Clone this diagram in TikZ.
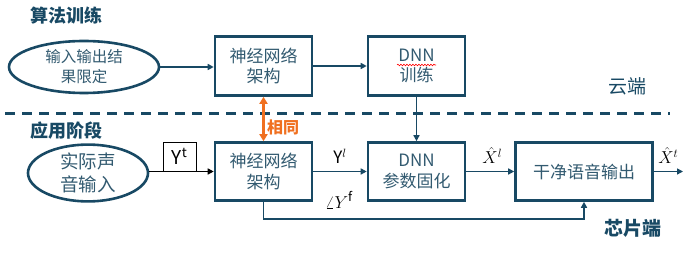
\documentclass[tikz,border=0pt]{standalone}
\usepackage{fontspec}
\setmainfont{Noto Sans CJK SC}
\usetikzlibrary{arrows.meta, shapes.geometric, decorations.pathmorphing}
\definecolor{deepteal}{RGB}{24,73,100}
\definecolor{textteal}{RGB}{50,90,112}
\definecolor{sameorange}{RGB}{240,112,32}
\tikzset{
	blockbox/.style={draw=deepteal, line width=2.6pt, minimum width=97pt, minimum height=58pt,
		align=center, inner sep=2pt, text=textteal, font=\fontsize{17}{20.5}\selectfont}
}
\tikzset{
	oval/.style={ellipse, draw=deepteal, line width=2.6pt, inner sep=0pt, align=center, text=textteal}
}
\tikzset{
	flow/.style={draw=deepteal, line width=1.6pt, -{Triangle[length=6pt,width=6pt]}}
}
\tikzset{
	stagetext/.style={font=\fontsize{18}{20}\selectfont\bfseries, text=deepteal}
}
\tikzset{
	sidetext/.style={font=\fontsize{19}{21}\selectfont, text=deepteal}
}
\tikzset{
	signal/.style={font=\fontsize{18}{20}\selectfont, text=black, inner sep=1pt, above, yshift=6pt}
}

\begin{document}
\begin{tikzpicture}[x=1pt, y=-1pt]
      \useasboundingbox (0,0) rectangle (688,253);
      % cloud side
      \node[stagetext] (algtitle) at (66,16) {算法训练};
      \node[oval, minimum width=150pt, minimum height=52pt, font=\fontsize{15.5}{20}\selectfont] (spec) at (84,67) {输入输出结\\果限定};
      \node[blockbox, minimum height=59pt] (archtrain) at (263.5,66) {神经网络\\架构};
      \node[blockbox, minimum height=59pt] (dnntrain) at (416.5,66) {DNN\\训练};
      \node[sidetext] (cloud) at (627,86) {云端};
      \draw[red, line width=0.6pt, decorate, decoration={snake, segment length=3pt, amplitude=0.8pt}] (397,65) -- (436,65);
      \draw[flow] (spec.east) -- (spec.east -| archtrain.west);
      \draw[flow] (archtrain) -- (dnntrain);
      \draw[deepteal, line width=3pt, dash pattern=on 10pt off 7pt] (5,114) -- (670,114);
      % chip side
      \node[stagetext] (apptitle) at (66,131) {应用阶段};
      \node[oval, minimum width=120pt, minimum height=48pt, font=\fontsize{18.5}{23}\selectfont] (speech) at (88,173) {实际声\\音输入};
      \node[blockbox] (archrun) at (263.5,171.5) {神经网络\\架构};
      \node[blockbox] (dnnfixed) at (416.5,171.5) {DNN\\参数固化};
      \node[blockbox, minimum width=137pt] (cleanout) at (584,171.5) {干净语音输出};
      \node[draw=black, line width=0.8pt, minimum width=33pt, minimum height=29pt, inner sep=0pt, font=\fontsize{19}{21}\selectfont] (ytbox) at (179.5,156.5) {Y\textsuperscript{t}};
      \node[sidetext, font=\fontsize{19}{21}\selectfont\bfseries] (chip) at (633,228) {芯片端};
      \coordinate (xout) at (683,171.5);
      \draw[flow, draw=black] (speech.east |- archrun.west) -- (archrun.west);
      \draw[flow] (dnntrain) -- (dnnfixed);
      \draw[flow] (archrun) -- node[signal, font=\fontsize{17}{19}\selectfont] (ylabel) {Y$^{l}$} (dnnfixed);
      \draw[flow] (dnnfixed) -- node[signal, xshift=2pt] (xllabel) {$\hat{X}^{l}$} (cleanout);
      \draw[flow] (cleanout) -- node[signal] (xtlabel) {$\hat{X}^{t}$} (xout);
      \draw[flow] (archrun.south) -- ++(0,17.5) -| (cleanout.south);
      \node[font=\fontsize{18}{20}\selectfont, inner sep=1pt] (phase) at (339,200) {$\angle Y^{\mathrm{f}}$};
      % same network
      \draw[sameorange, line width=2.6pt, {Triangle[length=7pt,width=8pt]}-{Triangle[length=7pt,width=8pt]}] (archtrain.south) -- (archrun.north);
      \node[font=\fontsize{16}{18}\selectfont\bfseries, text=sameorange, anchor=west, inner sep=1pt] (same) at (266,127) {相同};
    \end{tikzpicture}
\end{document}
